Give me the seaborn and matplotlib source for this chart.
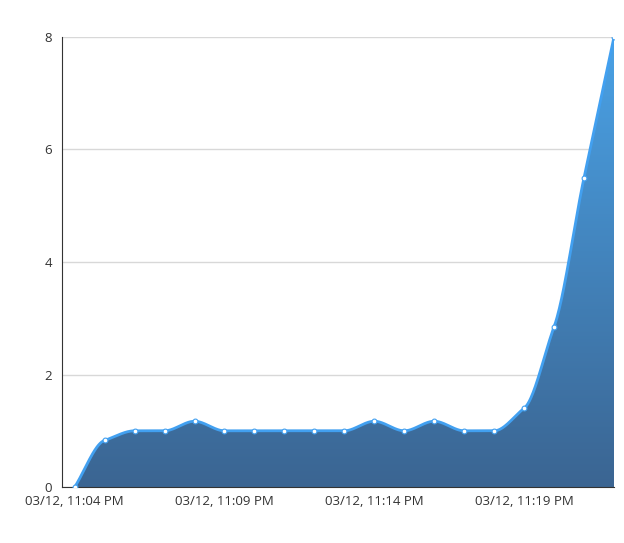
import numpy as np
import pandas as pd
import matplotlib
matplotlib.use("Agg")
import matplotlib.pyplot as plt
import seaborn as sns
from matplotlib.colors import LinearSegmentedColormap

minutes = list(range(19))
values = [0, 0.83, 1, 1, 1.17, 1, 1, 1, 1, 1, 1.17, 1, 1.17, 1, 1, 1.4, 2.85, 5.5, 8]
tick_pos = [0, 5, 10, 15]
tick_labels = ["03/12, 11:04 PM", "03/12, 11:09 PM", "03/12, 11:14 PM", "03/12, 11:19 PM"]


def monotone(x, y, n=40):
    # Fritsch-Carlson monotone cubic, for drawing a smooth line only
    x = np.asarray(x, float); y = np.asarray(y, float)
    h = np.diff(x); d = np.diff(y) / h
    m = np.zeros_like(y)
    m[0], m[-1] = d[0], d[-1]
    for i in range(1, len(y) - 1):
        if d[i - 1] * d[i] <= 0:
            m[i] = 0
        else:
            m[i] = min(abs(d[i - 1]), abs(d[i])) * np.sign(d[i])
    xs, ys = [], []
    for i in range(len(h)):
        t = np.linspace(0, 1, n, endpoint=False)
        h00 = 2*t**3 - 3*t**2 + 1; h10 = t**3 - 2*t**2 + t
        h01 = -2*t**3 + 3*t**2; h11 = t**3 - t**2
        xs.append(x[i] + t*h[i])
        ys.append(h00*y[i] + h10*h[i]*m[i] + h01*y[i+1] + h11*h[i]*m[i+1])
    xs.append([x[-1]]); ys.append([y[-1]])
    return np.concatenate(xs), np.concatenate(ys)


sns.set_style("white")
plt.rcParams["font.family"] = ["Open Sans", "DejaVu Sans"]
fig = plt.figure(figsize=(6.24, 5.43), dpi=100)
ax = fig.add_axes([0.099, 0.103, 0.885, 0.829])

sx, sy = monotone(minutes, values)
poly = ax.fill_between(sx, 0, sy, color="none")
cmap = LinearSegmentedColormap.from_list("g", ["#3b6592", "#4aa2e6"])
grad = np.linspace(0, 1, 256).reshape(-1, 1)
im = ax.imshow(grad, cmap=cmap, aspect="auto", origin="lower",
               extent=[min(minutes), max(minutes), 0, max(values)], zorder=1)
im.set_clip_path(poly.get_paths()[0], transform=ax.transData)

sns.lineplot(x=sx, y=sy, ax=ax, color="#42a0f0", linewidth=2, zorder=3)
df = pd.DataFrame({"m": minutes, "v": values})
sns.scatterplot(data=df, x="m", y="v", ax=ax, color="white", edgecolor="#42a0f0",
                s=12, linewidth=0.8, zorder=4)

ax.set_xlim(-0.43, 18.0)
ax.set_ylim(0, 8)
ax.set_yticks([0, 2, 4, 6, 8])
ax.yaxis.grid(True, color="#d8d8d8", linewidth=1)
ax.set_axisbelow(True)
ax.set_xticks(tick_pos)
ax.set_xticklabels(tick_labels)
ax.set_xticks([2.5, 7.5, 12.5, 17.5], minor=True)
ax.tick_params(axis="x", which="major", length=0, pad=6, labelsize=9.5, colors="#333333")
ax.tick_params(axis="x", which="minor", length=5, color="#333333", direction="out")
ax.tick_params(axis="y", length=5, pad=2, color="#333333", labelsize=9.5, colors="#333333")
for s in ["top", "right"]:
    ax.spines[s].set_visible(False)
ax.spines["left"].set_color("#333333")
ax.spines["bottom"].set_color("#333333")
ax.set_xlabel(""); ax.set_ylabel("")
fig.savefig("out.png", dpi=100)
